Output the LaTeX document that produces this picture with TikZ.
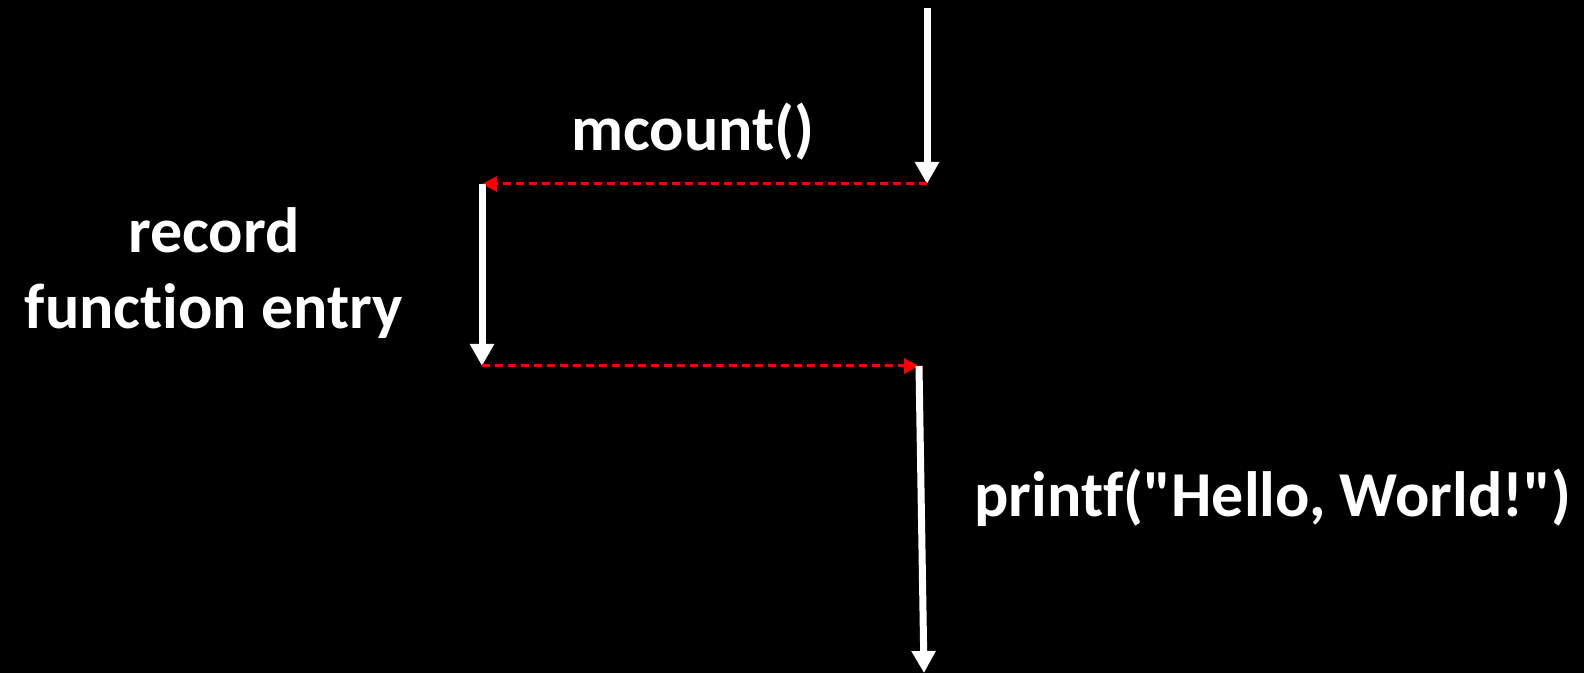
\documentclass[tikz,border=0pt]{standalone}
\usepackage{fontspec}
\newfontfamily\lblfont{Carlito}[Ligatures=NoCommon]
\usetikzlibrary{arrows.meta}
\begin{document}
\begin{tikzpicture}[x=0.5pt,y=-0.5pt,
  flow/.style={white,line width=3.5pt,-{Triangle[width=11.5pt,length=11pt]}},
  call/.style={red,line width=1.5pt,dash pattern=on 4pt off 2.5pt,-{Triangle[width=7.5pt,length=7.5pt]}},
  lbl/.style={text=white,font=\lblfont\fontsize{32}{36}\selectfont\bfseries,inner sep=0pt,anchor=base}]
\fill[black] (0,0) rectangle (1584,673);
\useasboundingbox (0,0) rectangle (1584,673);
\coordinate (t0) at (927,8);
\coordinate (t1) at (927,184);
\coordinate (l0) at (482,184);
\coordinate (l1) at (482,366);
\coordinate (b0) at (919,366);
\coordinate (b1) at (924,673);
\draw[flow] (t0) -- (t1);
\draw[call] (t1) -- (l0);
\draw[flow] (l0) -- (l1);
\draw[call] (l1) -- (b0);
\draw[flow] (b0) -- (b1);
\node[lbl] (mc) at (693,151) {mcount()};
\node[lbl] (rec) at (214,253) {record};
\node[lbl] (fe) at (214,329) {function entry};
\node[lbl,anchor=base west] (pf) at (974,516) {printf("Hello, World!")};
\end{tikzpicture}
\end{document}
